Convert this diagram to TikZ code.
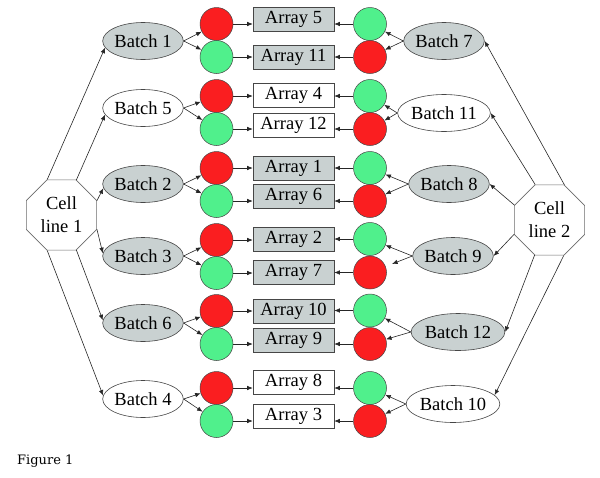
\documentclass[tikz,border=0pt]{standalone}
\usepackage{fontspec}
\setmainfont{Liberation Serif}
\newfontfamily\figfont{DejaVu Serif}
\usetikzlibrary{shapes.geometric,arrows.meta}
\definecolor{boxgray}{RGB}{201,209,209}
\definecolor{dotred}{RGB}{250,30,32}
\definecolor{dotgreen}{RGB}{80,240,140}
\definecolor{edge}{RGB}{70,70,70}
\tikzset{
  txt/.style={font=\fontsize{18.5}{23}\selectfont},
  cellline/.style={regular polygon, regular polygon sides=8, minimum size=76pt, inner sep=0pt, draw=edge!80, line width=0.6pt, fill=white, txt, align=center},
  batchg/.style={ellipse, minimum width=77pt, minimum height=37pt, inner sep=0pt, draw=edge, line width=0.6pt, fill=boxgray, txt},
  batchw/.style={batchg, fill=white},
  arrg/.style={rectangle, minimum width=81pt, minimum height=24pt, inner sep=0pt, draw=edge, line width=0.6pt, fill=boxgray, txt},
  arrw/.style={arrg, fill=white},
  dotr/.style={circle, minimum size=33pt, inner sep=0pt, draw=edge, line width=0.5pt, fill=dotred},
  dotg/.style={dotr, fill=dotgreen},
  arr/.style={-{Latex[length=5.5pt,width=4.5pt]}, line width=0.6pt, draw=black!85},
}
\begin{document}
\begin{tikzpicture}[x=1pt,y=-1pt]
\useasboundingbox (0,0) rectangle (600,477);
% cell lines
\node[cellline] (c1) at (61.5,215) {Cell\\line 1};
\node[cellline] (c2) at (549.5,220) {Cell\\line 2};
% left batches
\node[batchg] (b1) at (143,41) {Batch 1};
\node[batchw] (b5) at (143,108) {Batch 5};
\node[batchg] (b2) at (143,184) {Batch 2};
\node[batchg] (b3) at (143,256) {Batch 3};
\node[batchg] (b6) at (143,323) {Batch 6};
\node[batchw] (b4) at (143,399) {Batch 4};
% right batches
\node[batchg] (b7) at (444,41) {Batch 7};
\node[batchw] (b11) at (444,113) {Batch 11};
\node[batchg] (b8) at (449,184) {Batch 8};
\node[batchg] (b9) at (453,256) {Batch 9};
\node[batchg] (b12) at (458,332) {Batch 12};
\node[batchw] (b10) at (453,404) {Batch 10};
% arrays
\node[arrg] (a5) at (293.5,19.5) {Array 5};
\node[arrg] (a11) at (293.5,57.5) {Array 11};
\node[arrw] (a4) at (293.5,95.5) {Array 4};
\node[arrw] (a12) at (293.5,125) {Array 12};
\node[arrg] (a1) at (293.5,168) {Array 1};
\node[arrg] (a6) at (293.5,196) {Array 6};
\node[arrg] (a2) at (293.5,239.5) {Array 2};
\node[arrg] (a7) at (293.5,272.5) {Array 7};
\node[arrg] (a10) at (293.5,311) {Array 10};
\node[arrg] (a9) at (293.5,340) {Array 9};
\node[arrw] (a8) at (293.5,382.5) {Array 8};
\node[arrw] (a3) at (293.5,416) {Array 3};
% left dots
\node[dotr] (l1) at (216.5,24) {};
\node[dotg] (l2) at (216.5,57) {};
\node[dotr] (l3) at (216.5,96) {};
\node[dotg] (l4) at (216.5,129) {};
\node[dotr] (l5) at (216.5,168) {};
\node[dotg] (l6) at (216.5,201) {};
\node[dotr] (l7) at (216.5,240) {};
\node[dotg] (l8) at (216.5,273) {};
\node[dotr] (l9) at (216.5,311) {};
\node[dotg] (l10) at (216.5,344) {};
\node[dotr] (l11) at (216.5,388) {};
\node[dotg] (l12) at (216.5,421) {};
% right dots
\node[dotg] (r1) at (370,24) {};
\node[dotr] (r2) at (370,57) {};
\node[dotg] (r3) at (370,96) {};
\node[dotr] (r4) at (370,129) {};
\node[dotg] (r5) at (370,168) {};
\node[dotr] (r6) at (370,201) {};
\node[dotg] (r7) at (370,239) {};
\node[dotr] (r8) at (370,272.5) {};
\node[dotg] (r9) at (370,310.5) {};
\node[dotr] (r10) at (370,344) {};
\node[dotg] (r11) at (370,388) {};
\node[dotr] (r12) at (370,421) {};
% cell line 1 -> batches
\draw[arr] (c1.112.5) -- (b1.190);
\draw[arr] (c1.67.5) -- (b5.190);
\draw[arr] (c1.22.5) -- (b2.186);
\draw[arr] (c1.-22.5) -- (b3.176);
\draw[arr] (c1.-67.5) -- (b6.176);
\draw[arr] (c1.-112.5) -- (b4.175);
% cell line 2 -> batches
\draw[arr] (c2.67.5) -- (b7.east);
\draw[arr] (c2.112.5) -- (b11.east);
\draw[arr] (c2.157.5) -- (b8.east);
\draw[arr] (c2.202.5) -- (b9.east);
\draw[arr] (c2.247.5) -- (b12.east);
\draw[arr] (c2.292.5) -- (b10.12);
% left batches -> dots
\foreach \b/\u/\d in {b1/l1/l2, b5/l3/l4, b2/l5/l6, b3/l7/l8, b6/l9/l10, b4/l11/l12}{
  \draw[arr] (\b.east) -- (\u);
  \draw[arr] (\b.east) -- (\d);
}
% right batches -> dots
\foreach \b/\u/\d in {b7/r1/r2, b11/r3/r4, b8/r5/r6, b12/r9/r10, b10/r11/r12}{
  \draw[arr] (\b.west) -- (\u);
  \draw[arr] (\b.west) -- (\d);
}
\draw[arr] (b9.west) -- (r7);
\draw[arr, shorten >=7pt] (b9.west) -- (r8);
% left dots -> arrays
\foreach \d/\a in {l1/a5, l2/a11, l3/a4, l4/a12, l5/a1, l6/a6, l7/a2, l8/a7, l9/a10, l10/a9, l11/a8, l12/a3}{
  \draw[arr] (\d.east) -- (\d.east -| \a.west);
}
% right dots -> arrays
\foreach \d/\a in {r1/a5, r2/a11, r3/a4, r4/a12, r5/a1, r6/a6, r7/a2, r8/a7, r9/a10, r10/a9, r11/a8, r12/a3}{
  \draw[arr] (\d.west) -- (\d.west -| \a.east);
}
\node[anchor=west, inner sep=0pt, font=\figfont\fontsize{13}{15}\selectfont] (fig) at (17,461) {Figure 1};
\end{tikzpicture}
\end{document}
